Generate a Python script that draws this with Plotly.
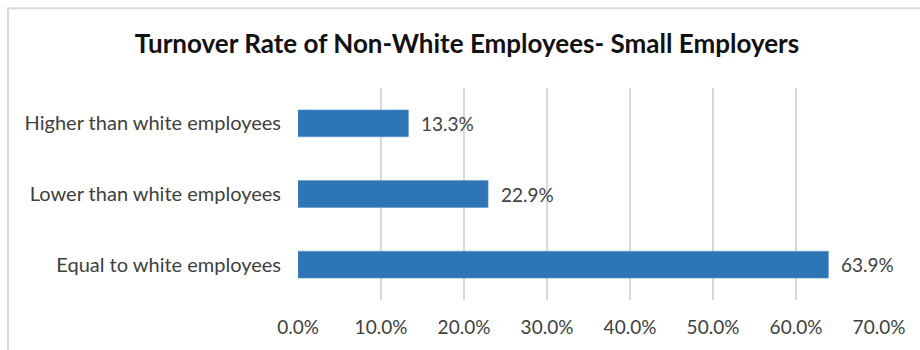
import plotly.graph_objects as go

# Survey responses, top-to-bottom order as displayed
categories = ["Higher than white employees", "Lower than white employees", "Equal to white employees"]
rates = [13.3, 22.9, 63.9]
tick_values = [0, 10, 20, 30, 40, 50, 60, 70]
tick_labels = ["0.0%", "10.0%", "20.0%", "30.0%", "40.0%", "50.0%", "60.0%", "70.0%"]

FONT = "Lato"
TEXT = "#404040"
BAR = "#2e75b6"

W, H = 920, 350
ML, MR, MT, MB = 298, 41, 88, 48
plot_w = W - ML - MR
plot_h = H - MT - MB

fig = go.Figure(
    go.Bar(
        x=rates,
        y=categories,
        orientation="h",
        marker=dict(color=BAR, line=dict(color="#5b93c8", width=0.6)),
        width=0.38,
        hoverinfo="skip",
    )
)

# value labels just past the bar ends
for cat, val in zip(categories, rates):
    fig.add_annotation(
        x=val, y=cat, xref="x", yref="y",
        text=f"{val:.1f}%", showarrow=False,
        xanchor="left", yanchor="middle", xshift=11,
        font=dict(family=FONT, size=19, color=TEXT),
    )

# chart frame (top and left edges visible)
def px_x(px):
    return (px - ML) / plot_w

def px_y(py):
    return 1 - (py - MT) / plot_h

fig.add_shape(type="line", xref="paper", yref="paper",
              x0=px_x(7), x1=px_x(925), y0=px_y(7.5), y1=px_y(7.5),
              line=dict(color="#d9d9d9", width=2))
fig.add_shape(type="line", xref="paper", yref="paper",
              x0=px_x(8), x1=px_x(8), y0=px_y(360), y1=px_y(7.5),
              line=dict(color="#d9d9d9", width=2))

fig.update_layout(
    width=W, height=H,
    margin=dict(l=ML, r=MR, t=MT, b=MB),
    paper_bgcolor="white", plot_bgcolor="white",
    showlegend=False,
    title=dict(
        text="<b>Turnover Rate of Non-White Employees- Small Employers</b>",
        x=467 / W, xref="container", xanchor="center",
        y=1 - 44 / H, yref="container", yanchor="middle",
        font=dict(family=FONT, size=26, color="#111111"),
    ),
    xaxis=dict(
        range=[0, 70], tickvals=tick_values, ticktext=tick_labels,
        showgrid=True, gridcolor="#d9d9d9", gridwidth=1.5,
        zeroline=False, showline=False,
        ticks="outside", ticklen=10, tickcolor="rgba(0,0,0,0)",
        tickfont=dict(family=FONT, size=19, color=TEXT),
        fixedrange=True,
    ),
    yaxis=dict(
        categoryorder="array", categoryarray=categories[::-1],
        showgrid=False, zeroline=False, showline=False,
        ticks="outside", ticklen=12, tickcolor="rgba(0,0,0,0)",
        tickfont=dict(family=FONT, size=20, color=TEXT),
        fixedrange=True,
    ),
)

fig.write_html("out.html")
